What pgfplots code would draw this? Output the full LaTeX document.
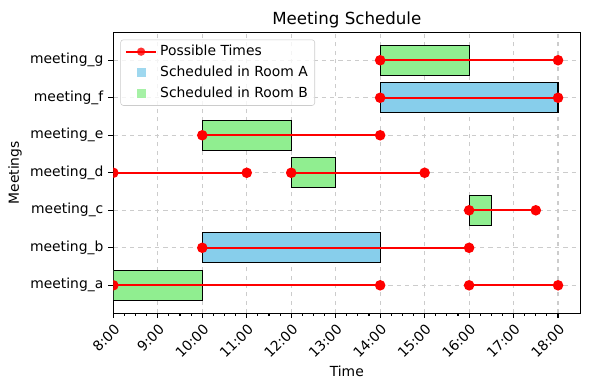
\documentclass[border=0pt]{standalone}
\usepackage{pgfplots}
\pgfplotsset{compat=1.18}
\usepackage{fontspec}
\setmainfont{DejaVu Sans}
\definecolor{skyblue}{RGB}{135,206,235}
\definecolor{lgreen}{RGB}{144,238,144}
\definecolor{gridgray}{RGB}{204,204,204}
\begin{document}
\begin{tikzpicture}
\path[use as bounding box] (0,0) rectangle (424.8pt,280.8pt);
\begin{axis}[
  at={(81.6pt,55.4pt)}, anchor=south west,
  width=336.2pt, height=202pt, scale only axis,
  xmin=8, xmax=18.5, ymin=-0.74, ymax=6.74,
  xtick={8,9,10,11,12,13,14,15,16,17,18},
  xticklabels={8:00,9:00,10:00,11:00,12:00,13:00,14:00,15:00,16:00,17:00,18:00},
  minor x tick num=3,
  ytick={0,1,2,3,4,5,6},
  yticklabels={meeting\_a,meeting\_b,meeting\_c,meeting\_d,meeting\_e,meeting\_f,meeting\_g},
  tick pos=left, tick align=outside,
  major tick length=3.5pt, minor tick length=2pt,
  every tick/.style={black, line width=0.8pt},
  axis line style={line width=0.8pt},
  xmajorgrids, ymajorgrids,
  major grid style={gridgray, dashed, line width=0.8pt},
  /pgf/number format/assume math mode=true,
  ticklabel style={font=\fontsize{10}{12}\selectfont},
  xticklabel style={rotate=45, anchor=north east, inner sep=2.5pt},
  yticklabel style={inner sep=3.5pt},
  xlabel={Time}, ylabel={Meetings},
  label style={font=\fontsize{10}{12}\selectfont},
  xlabel style={at={(0.5,0)}, anchor=base, yshift=-46pt},
  ylabel style={at={(0,0.5)}, anchor=base, rotate=0, yshift=68pt},
  title={Meeting Schedule},
  title style={font=\fontsize{12}{14}\selectfont, yshift=-6pt},
  legend style={font=\fontsize{10}{12}\selectfont, draw=gridgray, rounded corners=2pt, fill=white, fill opacity=0.8, text opacity=1, row sep=2pt, inner xsep=3pt, inner ysep=2pt, at={(0.015,0.975)}, anchor=north west},
  legend cell align=left,
]
\addlegendimage{legend image code/.code={
  \draw[red, line width=1.5pt, sharp corners] (0pt,0pt) -- (22pt,0pt);
  \fill[red, draw=none] (11pt,0pt) circle (3pt);}}
\addlegendentry{Possible Times}
\addlegendimage{legend image code/.code={
  \path[draw=none, fill=none] (0pt,0pt) -- (22pt,0pt);
  \path[fill=skyblue, draw=none, sharp corners] (7.8pt,-3.2pt) rectangle (14.2pt,3.2pt);}}
\addlegendentry{Scheduled in Room A}
\addlegendimage{legend image code/.code={
  \path[draw=none, fill=none] (0pt,0pt) -- (22pt,0pt);
  \path[fill=lgreen, draw=none, sharp corners] (7.8pt,-3.2pt) rectangle (14.2pt,3.2pt);}}
\addlegendentry{Scheduled in Room B}

% Scheduled bars
\addplot[forget plot, fill=lgreen, draw=black, line width=0.8pt] coordinates {(8,-0.4) (10,-0.4) (10,0.4) (8,0.4)} -- cycle;
\addplot[forget plot, fill=skyblue, draw=black, line width=0.8pt] coordinates {(10,0.6) (14,0.6) (14,1.4) (10,1.4)} -- cycle;
\addplot[forget plot, fill=lgreen, draw=black, line width=0.8pt] coordinates {(16,1.6) (16.5,1.6) (16.5,2.4) (16,2.4)} -- cycle;
\addplot[forget plot, fill=lgreen, draw=black, line width=0.8pt] coordinates {(12,2.6) (13,2.6) (13,3.4) (12,3.4)} -- cycle;
\addplot[forget plot, fill=lgreen, draw=black, line width=0.8pt] coordinates {(10,3.6) (12,3.6) (12,4.4) (10,4.4)} -- cycle;
\addplot[forget plot, fill=skyblue, draw=black, line width=0.8pt] coordinates {(14,4.6) (18,4.6) (18,5.4) (14,5.4)} -- cycle;
\addplot[forget plot, fill=lgreen, draw=black, line width=0.8pt] coordinates {(14,5.6) (16,5.6) (16,6.4) (14,6.4)} -- cycle;

% Possible times
\pgfplotsset{pt/.style={forget plot, red, line width=1.5pt, mark=*, mark size=3pt, clip mode=individual}}
\addplot[pt] coordinates {(8,0) (14,0)};
\addplot[pt] coordinates {(16,0) (18,0)};
\addplot[pt] coordinates {(10,1) (16,1)};
\addplot[pt] coordinates {(16,2) (17.5,2)};
\addplot[pt] coordinates {(8,3) (11,3)};
\addplot[pt] coordinates {(12,3) (15,3)};
\addplot[pt] coordinates {(10,4) (14,4)};
\addplot[pt] coordinates {(14,5) (18,5)};
\addplot[pt] coordinates {(14,6) (18,6)};
\end{axis}
\end{tikzpicture}
\end{document}
